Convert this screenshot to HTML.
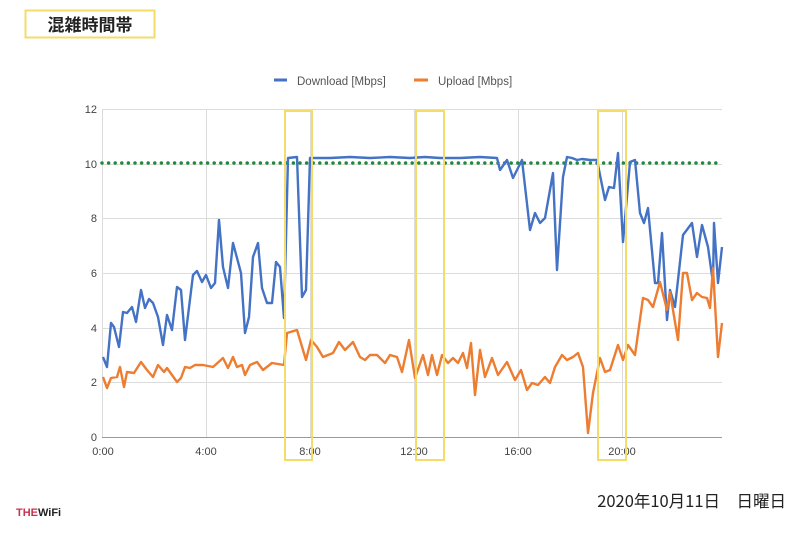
<!DOCTYPE html>
<html><head><meta charset="utf-8"><style>
body{margin:0;background:#fff;width:800px;height:533px;overflow:hidden;font-family:"Liberation Sans","Noto Sans CJK JP",sans-serif}
</style></head><body>
<svg width="800" height="533" xmlns="http://www.w3.org/2000/svg" style="position:absolute;left:0;top:0">
<rect x="25.5" y="10.5" width="129" height="27" fill="#fff" stroke="#f3dc6a" stroke-width="2"/>
<text x="90" y="31" text-anchor="middle" font-size="17" font-weight="bold" fill="#222" font-family="Noto Sans CJK JP,sans-serif">混雑時間帯</text>
<rect x="274" y="78.5" width="13" height="3" fill="#4472c4"/>
<text x="297" y="85" font-size="11.5" fill="#555">Download [Mbps]</text>
<rect x="414" y="78.5" width="14" height="3" fill="#ed7d31"/>
<text x="438" y="85" font-size="11.5" fill="#555">Upload [Mbps]</text>
<g stroke="#dcdcdc" stroke-width="1">
<line x1="102" y1="109.5" x2="722" y2="109.5"/><line x1="102" y1="164.5" x2="722" y2="164.5"/>
<line x1="102" y1="218.5" x2="722" y2="218.5"/><line x1="102" y1="273.5" x2="722" y2="273.5"/>
<line x1="102" y1="328.5" x2="722" y2="328.5"/><line x1="102" y1="382.5" x2="722" y2="382.5"/>
<line x1="206.5" y1="109" x2="206.5" y2="437"/><line x1="310.5" y1="109" x2="310.5" y2="437"/>
<line x1="414.5" y1="109" x2="414.5" y2="437"/><line x1="518.5" y1="109" x2="518.5" y2="437"/>
<line x1="622.5" y1="109" x2="622.5" y2="437"/><line x1="102.5" y1="109" x2="102.5" y2="437"/>
</g>
<line x1="102" y1="437.5" x2="722" y2="437.5" stroke="#999"/>
<g font-size="11" fill="#444" text-anchor="end">
<text x="97" y="113">12</text><text x="97" y="168">10</text><text x="97" y="222">8</text>
<text x="97" y="277">6</text><text x="97" y="332">4</text><text x="97" y="386">2</text><text x="97" y="441">0</text>
</g>
<g font-size="11" fill="#444" text-anchor="middle">
<text x="103" y="455">0:00</text><text x="206" y="455">4:00</text><text x="310" y="455">8:00</text>
<text x="414" y="455">12:00</text><text x="518" y="455">16:00</text><text x="622" y="455">20:00</text>
</g>
<line x1="102" y1="163" x2="722" y2="163" stroke="#1e8a3a" stroke-width="3.5" stroke-dasharray="0 6.6" stroke-linecap="round"/>
<polyline fill="none" stroke="#4472c4" stroke-width="2.4" stroke-linejoin="round" points="103,357 107,367 111,323 114,327 119,347 123,312 127,313 132,307 136,322 141,290 145,308 149,299 153,303 158,317 163,345 167,315 172,330 177,287 181,290 185,340 193,275 197,271 202,282 206,275 211,288 215,283 219,220 223,267 228,288 233,243 241,273 245,333 249,317 253,257 258,243 262,288 267,303 272,303 276,262 280,267 284,318 288,158 297,157 302,297 306,290 310,158 315,158 330,158 350,157 370,158 390,157 410,158 425,157 440,158 460,158 480,157 497,158 500,170 507,160 513,178 522,160 530,230 535,213 540,223 545,218 553,173 557,270 563,177 567,157 572,158 577,160 582,159 590,160 597,160 605,200 609,187 614,188 618,153 623,242 630,162 635,160 640,213 644,223 648,208 655,283 658,283 662,233 667,320 670,290 675,307 683,235 692,223 697,257 702,225 708,247 713,283 714,223 718,283 722,247"/>
<polyline fill="none" stroke="#ed7d31" stroke-width="2.4" stroke-linejoin="round" points="103,377 107,388 111,378 117,377 120,367 124,387 127,372 134,373 141,362 147,370 153,377 158,365 164,372 167,368 172,375 177,382 181,378 185,367 190,368 195,365 203,365 213,367 223,358 228,368 233,357 237,367 242,365 245,375 250,365 257,362 263,370 272,363 284,365 287,333 297,330 306,360 311,340 317,347 323,357 333,353 339,342 345,350 353,342 360,357 365,360 370,355 377,355 385,363 390,355 397,357 402,372 409,340 415,378 423,355 428,375 432,355 437,375 442,355 448,363 453,358 458,363 463,353 467,368 471,343 475,395 480,350 485,377 492,358 498,375 507,362 515,380 521,370 527,390 532,383 538,385 545,377 550,383 555,367 562,355 567,360 573,357 578,353 583,367 588,433 593,393 600,358 605,372 610,370 618,345 623,360 628,345 635,355 643,298 648,300 653,307 660,282 667,310 670,292 678,340 683,273 687,273 692,300 697,293 702,297 707,298 710,308 713,268 718,357 722,323"/>
<g fill="none" stroke="#f3dc6a" stroke-width="2">
<rect x="285" y="111" width="27" height="349"/>
<rect x="416" y="111" width="28" height="349"/>
<rect x="598" y="111" width="28" height="349"/>
</g>
<text x="786" y="507" text-anchor="end" font-size="16.5" fill="#222" font-family="Noto Sans CJK JP,sans-serif">2020年10月11日　日曜日</text>
<text x="16" y="516" font-size="11" font-weight="bold" fill="#c8334e">THE<tspan fill="#222">WiFi</tspan></text>
</svg>
</body></html>
